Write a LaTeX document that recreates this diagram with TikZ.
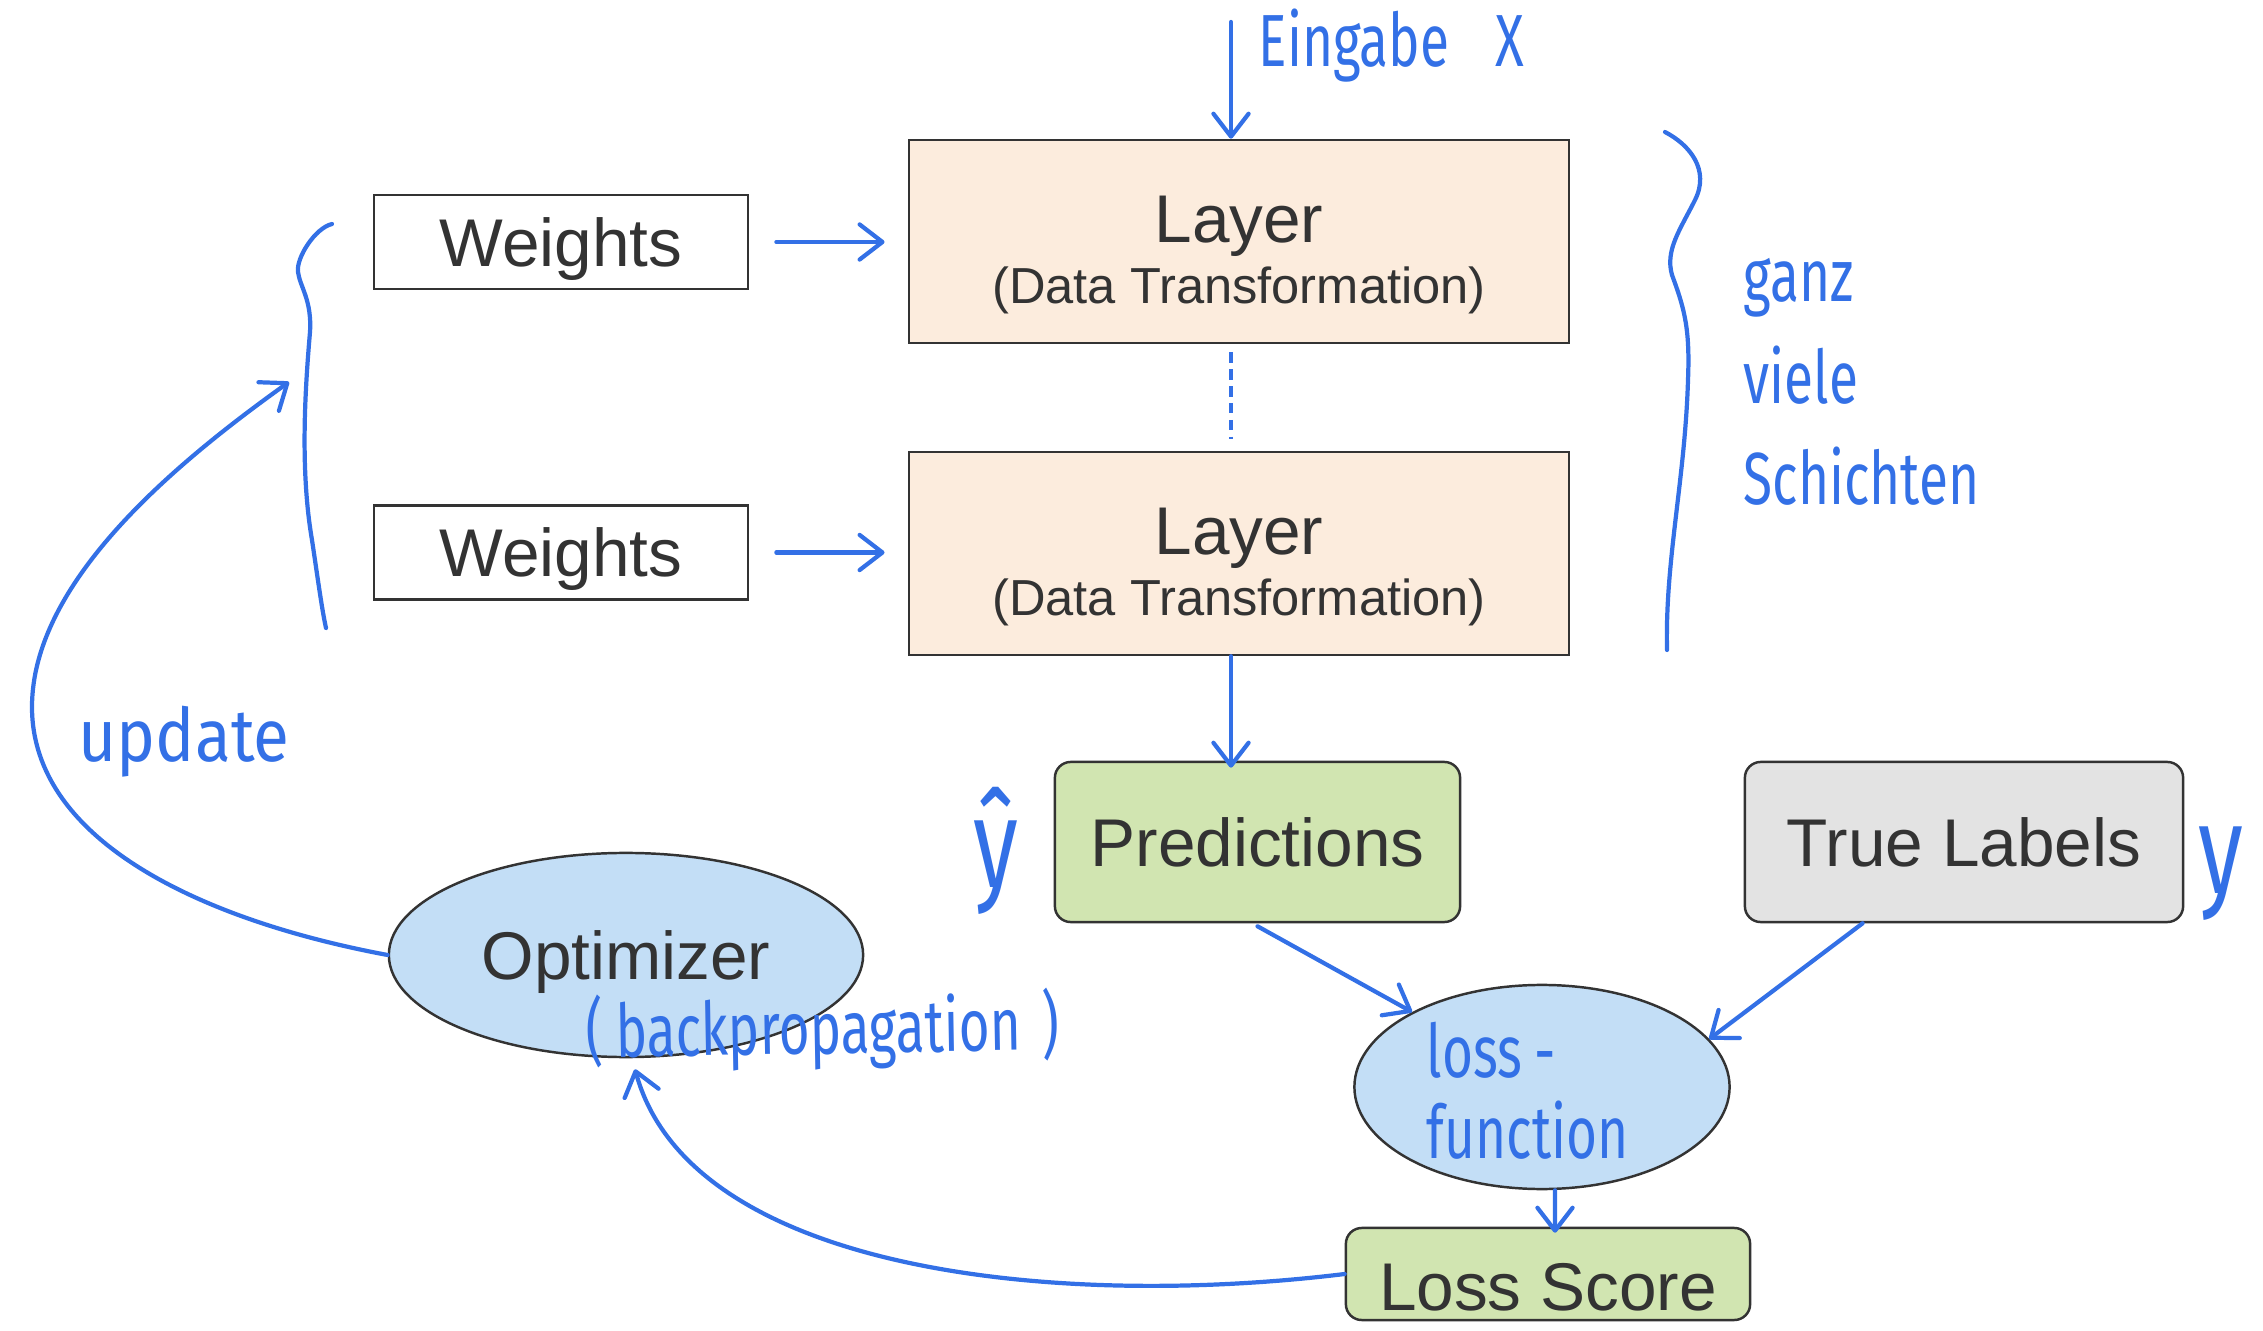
\documentclass[tikz,border=0pt]{standalone}
\usepackage{fontspec}
\setmainfont{Liberation Sans}
\newfontfamily\handfont[FakeStretch=0.72]{Fira Sans}
\newfontfamily\handwide[FakeStretch=0.89]{Fira Sans}
\usetikzlibrary{arrows.meta,shapes.geometric,calc}
\definecolor{ink}{HTML}{3370E6}
\definecolor{txt}{HTML}{333333}
\definecolor{peach}{HTML}{FCECDD}
\definecolor{pgreen}{HTML}{D1E5B1}
\definecolor{lgrey}{HTML}{E3E3E3}
\definecolor{lblue}{HTML}{C3DEF6}
\tikzset{
  box/.style={draw=txt, line width=0.7pt, inner sep=0pt, text=txt,
    font=\fontsize{19.2}{23}\selectfont, text depth=0pt},
  layerbox/.style={box, fill=peach, minimum width=6.6cm, minimum height=2.03cm},
  wbox/.style={box, fill=white, minimum width=3.74cm, minimum height=0.94cm},
  rbox/.style={box, rounded corners=4.5pt},
  ell/.style={box, ellipse, fill=lblue},
  bigtxt/.style={text=txt, inner sep=0pt, anchor=base, font=\fontsize{19.2}{23}\selectfont},
  smalltxt/.style={text=txt, inner sep=0pt, anchor=base, font=\fontsize{14.4}{17}\selectfont},
  hand/.style={text=ink, font=\handfont\fontsize{21}{25}\selectfont, inner sep=0pt},
  harrow/.style={draw=ink, line width=1.2pt, line cap=round, line join=round,
    -{Straight Barb[length=6.5pt,width=10pt,round]}},
  hline/.style={draw=ink, line width=1.2pt, line cap=round, line join=round},
}
\begin{document}
\begin{tikzpicture}[x=0.01cm, y=-0.01cm]
\useasboundingbox (0,0) rectangle (2263,1331);

% layers
\node[layerbox] (l1) at (1239,241.5) {};
\node[bigtxt] (l1a) at (1239,243) {Layer};
\node[smalltxt] (l1b) at (1239,304) {(Data Transformation)};
\node[layerbox] (l2) at (1239,553.5) {};
\node[bigtxt] (l2a) at (1239,555) {Layer};
\node[smalltxt] (l2b) at (1239,616) {(Data Transformation)};

% weights
\node[wbox] (w1) at (561,242) {Weights};
\node[wbox] (w2) at (561,552.5) {Weights};

% predictions / labels
\node[rbox, fill=pgreen, minimum width=4.05cm, minimum height=1.6cm] (pred) at (1257.5,842) {Predictions};
\node[rbox, fill=lgrey, minimum width=4.38cm, minimum height=1.6cm] (tl) at (1964,842) {True Labels};

% ellipses
\node[ell, minimum width=4.74cm, minimum height=2.04cm] (opt) at (626,955) {Optimizer};
\node[ell, minimum width=3.75cm, minimum height=2.04cm] (lf) at (1542,1087) {};

% loss score
\node[rbox, fill=pgreen, minimum width=4.04cm, minimum height=0.92cm, text height=20.6pt] (ls) at (1548,1274) {Loss Score};

% connectors
\coordinate (xin) at (1231,22);
\draw[harrow] (xin) -- (xin |- l1.north);
\draw[harrow, shorten <=0.27cm, shorten >=0.23cm] (w1.east) -- (w1.east -| l1.west);
\draw[harrow, shorten <=0.27cm, shorten >=0.23cm] (w2.east) -- (w2.east -| l2.west);
\draw[ink, line width=0.9pt, dash pattern=on 3pt off 1.8pt, shorten <=0.08cm, shorten >=0.12cm] (xin |- l1.south) -- (xin |- l2.north);
\draw[harrow] (xin |- l2.south) -- ([yshift=-0.07cm]xin |- pred.north);
\draw[harrow] ([yshift=-0.03cm]pred.south) -- (lf.150);
\draw[harrow] ($(tl.south west)!0.27!(tl.south east)$) -- (lf.16);
\draw[harrow] ([xshift=0.13cm]lf.south) -- ([xshift=0.07cm,yshift=-0.06cm]ls.north);
\draw[harrow] (ls.west) .. controls (1050,1310) and (690,1270) .. ([xshift=0.09cm,yshift=-0.11cm]opt.south);
\coordinate (upd) at (289,382);
\draw[harrow] (opt.west) .. controls (200,920) and (32,840) .. (32,707)
   .. controls (32,580) and (180,460) .. (upd);

% braces
\draw[hline] (332,224) .. controls (315,228) and (296,258) .. (298,272)
   .. controls (300,287) and (312,300) .. (310,332)
   .. controls (305,390) and (300,470) .. (312,540)
   .. controls (318,580) and (322,610) .. (326,628);
\draw[hline] (1665,132) .. controls (1690,145) and (1710,170) .. (1695,200)
   .. controls (1680,230) and (1665,250) .. (1672,275)
   .. controls (1685,310) and (1690,330) .. (1688,380)
   .. controls (1685,480) and (1665,560) .. (1667,650);

% handwritten labels
\node[hand, anchor=base west] (eing) at (1258,67) {Eingabe\hspace{13pt}X};
\node[hand, anchor=base west, align=left, font=\handfont\fontsize{21}{28.9}\selectfont] (gvs) at (1743,505) {ganz\\viele\\Schichten};
\node[hand, anchor=base west, font=\handwide\fontsize{21}{25}\selectfont] (updt) at (78,762) {update};
\node[hand, anchor=base west, rotate=1] (bp) at (586,1058) {(\,backpropagation\;)};
\node[hand, anchor=base west, align=left, font=\handfont\fontsize{21}{23}\selectfont] (lft) at (1426,1158) {loss\,-\\function};
\node[hand, font=\handfont\fontsize{36}{40}\selectfont] (yhat) at (996,851) {ŷ};
\node[hand, font=\handfont\fontsize{36}{40}\selectfont] (ytrue) at (2221,874) {y};
\end{tikzpicture}
\end{document}
